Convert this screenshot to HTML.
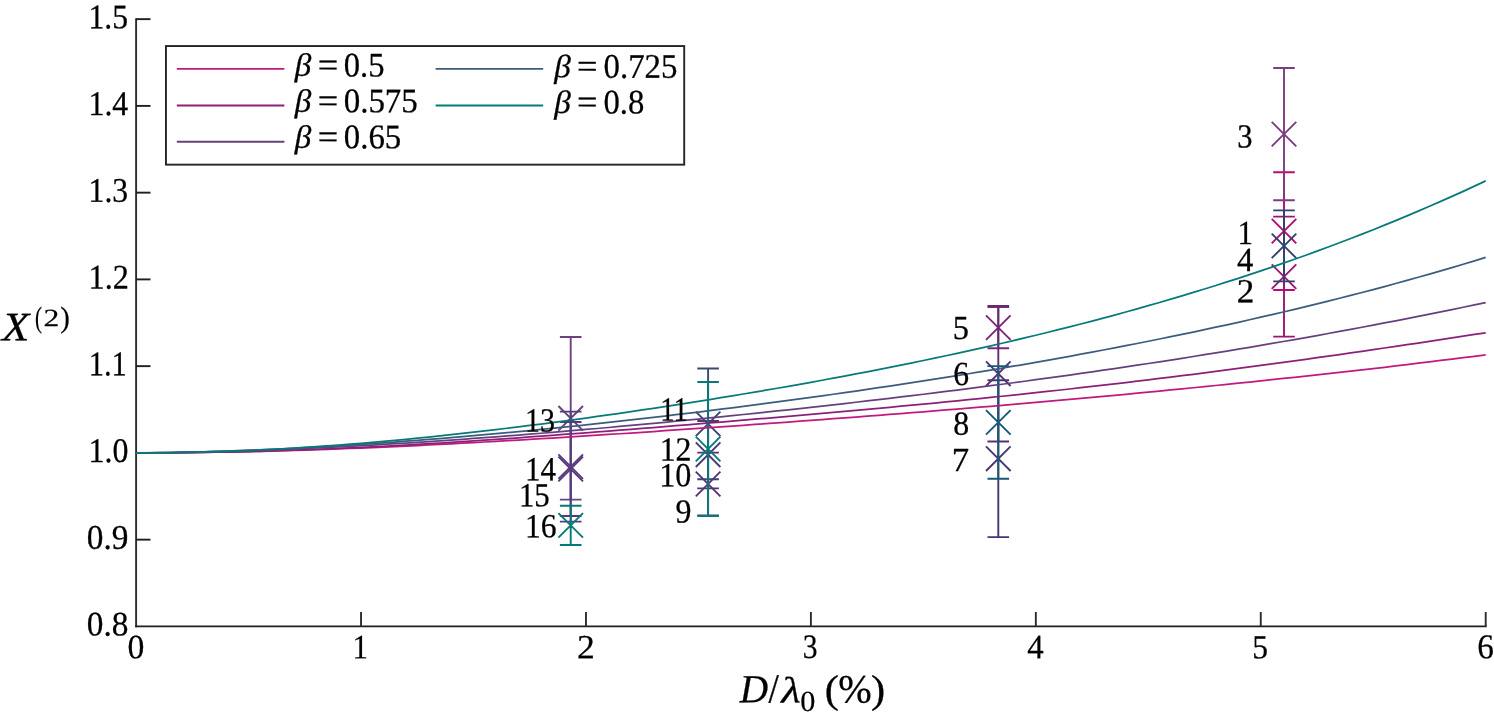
<!DOCTYPE html>
<html><head><meta charset="utf-8"><title>chart</title><style>html,body{margin:0;padding:0;background:#fff;overflow:hidden}svg{display:block;position:absolute;left:0;top:0}</style></head><body>
<svg width="1494" height="723" viewBox="0 0 1494 723">
<rect width="1494" height="723" fill="#fff"/>
<g stroke-width="1.9" fill="none" stroke-linecap="butt">
<path stroke="#2c2c2c" d="M136.1 18.20V627.35"/>
<path stroke="#1e1e1e" d="M135.15 626.4H1486.65"/>
<path stroke="#1e1e1e" d="M136.1 539.65h14.4"/>
<path stroke="#1e1e1e" d="M136.1 452.90h14.4"/>
<path stroke="#1e1e1e" d="M136.1 366.15h14.4"/>
<path stroke="#1e1e1e" d="M136.1 279.40h14.4"/>
<path stroke="#1e1e1e" d="M136.1 192.65h14.4"/>
<path stroke="#1e1e1e" d="M136.1 105.90h14.4"/>
<path stroke="#1e1e1e" d="M136.1 19.15h14.4"/>
<path stroke="#2c2c2c" d="M361.03 626.4v-14.4"/>
<path stroke="#2c2c2c" d="M585.97 626.4v-14.4"/>
<path stroke="#2c2c2c" d="M810.90 626.4v-14.4"/>
<path stroke="#2c2c2c" d="M1035.83 626.4v-14.4"/>
<path stroke="#2c2c2c" d="M1260.77 626.4v-14.4"/>
<path stroke="#2c2c2c" d="M1485.70 626.4v-14.4"/>
</g>
<g stroke="#b80a72" stroke-width="1.9" fill="none"><path d="M1284.0 172.2V290.0M1273.2 172.2h21.6M1273.2 290.0h21.6M1271.7 218.8L1296.3 243.4M1271.7 243.4L1296.3 218.8"/></g>
<g stroke="#9a1676" stroke-width="1.9" fill="none"><path d="M1284.0 216.6V336.6M1273.2 216.6h21.6M1273.2 336.6h21.6M1271.7 264.3L1296.3 288.9M1271.7 288.9L1296.3 264.3"/></g>
<g stroke="#7e3c84" stroke-width="1.9" fill="none"><path d="M1284.0 68.0V200.2M1273.2 68.0h21.6M1273.2 200.2h21.6M1271.7 121.8L1296.3 146.4M1271.7 146.4L1296.3 121.8"/></g>
<g stroke="#324270" stroke-width="1.9" fill="none"><path d="M1284.0 210.4V281.4M1273.2 210.4h21.6M1273.2 281.4h21.6M1271.7 233.6L1296.3 258.2M1271.7 258.2L1296.3 233.6"/></g>
<g stroke="#80267a" stroke-width="1.9" fill="none"><path d="M998.3 307.0V348.2M987.5 307.0h21.6M987.5 348.2h21.6M986.0 315.3L1010.5999999999999 339.9M986.0 339.9L1010.5999999999999 315.3"/></g>
<g stroke="#5e2e74" stroke-width="1.9" fill="none"><path d="M998.3 305.9V441.5M987.5 305.9h21.6M987.5 441.5h21.6M986.0 361.4L1010.5999999999999 386.0M986.0 386.0L1010.5999999999999 361.4"/></g>
<g stroke="#483672" stroke-width="1.9" fill="none"><path d="M998.3 380.3V537.1M987.5 380.3h21.6M987.5 537.1h21.6M986.0 446.4L1010.5999999999999 471.0M986.0 471.0L1010.5999999999999 446.4"/></g>
<g stroke="#165a74" stroke-width="1.9" fill="none"><path d="M998.3 366.1V478.7M987.5 366.1h21.6M987.5 478.7h21.6M986.0 410.1L1010.5999999999999 434.7M986.0 434.7L1010.5999999999999 410.1"/></g>
<g stroke="#5c3078" stroke-width="1.9" fill="none"><path d="M708.1 452.6V515.4M697.3000000000001 452.6h21.6M697.3000000000001 515.4h21.6M695.8000000000001 471.7L720.4 496.3M695.8000000000001 496.3L720.4 471.7"/></g>
<g stroke="#4a3a74" stroke-width="1.9" fill="none"><path d="M708.1 421.0V488.4M697.3000000000001 421.0h21.6M697.3000000000001 488.4h21.6M695.8000000000001 442.4L720.4 467.0M695.8000000000001 467.0L720.4 442.4"/></g>
<g stroke="#3c4676" stroke-width="1.9" fill="none"><path d="M708.1 368.5V479.3M697.3000000000001 368.5h21.6M697.3000000000001 479.3h21.6M695.8000000000001 411.6L720.4 436.2M695.8000000000001 436.2L720.4 411.6"/></g>
<g stroke="#067a76" stroke-width="1.9" fill="none"><path d="M708.1 382.0V516.0M697.3000000000001 382.0h21.6M697.3000000000001 516.0h21.6M695.8000000000001 436.7L720.4 461.3M695.8000000000001 461.3L720.4 436.7"/></g>
<g stroke="#6c4280" stroke-width="1.9" fill="none"><path d="M570.7 337.0V499.6M559.9000000000001 337.0h21.6M559.9000000000001 499.6h21.6M558.4000000000001 406.0L583.0 430.6M558.4000000000001 430.6L583.0 406.0"/></g>
<g stroke="#60347c" stroke-width="1.9" fill="none"><path d="M570.7 422.0V516.0M559.9000000000001 422.0h21.6M559.9000000000001 516.0h21.6M558.4000000000001 456.7L583.0 481.3M558.4000000000001 481.3L583.0 456.7"/></g>
<g stroke="#523e7c" stroke-width="1.9" fill="none"><path d="M570.7 411.6V521.6M559.9000000000001 411.6h21.6M559.9000000000001 521.6h21.6M558.4000000000001 454.3L583.0 478.9M558.4000000000001 478.9L583.0 454.3"/></g>
<g stroke="#067a76" stroke-width="1.9" fill="none"><path d="M570.7 505.8V545.0M559.9000000000001 505.8h21.6M559.9000000000001 545.0h21.6M558.4000000000001 513.1L583.0 537.7M558.4000000000001 537.7L583.0 513.1"/></g>
<polyline points="136.1,452.90 147.3,452.87 158.6,452.82 169.8,452.75 181.1,452.66 192.3,452.54 203.6,452.39 214.8,452.22 226.1,452.03 237.3,451.82 248.6,451.57 259.8,451.31 271.1,451.03 282.3,450.72 293.6,450.40 304.8,450.05 316.0,449.68 327.3,449.30 338.5,448.88 349.8,448.46 361.0,448.02 372.3,447.55 383.5,447.06 394.8,446.57 406.0,446.05 417.3,445.51 428.5,444.96 439.8,444.40 451.0,443.82 462.3,443.22 473.5,442.61 484.7,442.00 496.0,441.36 507.2,440.72 518.5,440.06 529.7,439.39 541.0,438.72 552.2,438.03 563.5,437.34 574.7,436.63 586.0,435.92 597.2,435.20 608.5,434.48 619.7,433.75 631.0,433.01 642.2,432.26 653.4,431.51 664.7,430.74 675.9,429.98 687.2,429.21 698.4,428.44 709.7,427.66 720.9,426.87 732.2,426.08 743.4,425.28 754.7,424.48 765.9,423.67 777.2,422.86 788.4,422.04 799.7,421.22 810.9,420.39 822.1,419.56 833.4,418.72 844.6,417.88 855.9,417.03 867.1,416.17 878.4,415.31 889.6,414.44 900.9,413.57 912.1,412.68 923.4,411.80 934.6,410.90 945.9,409.99 957.1,409.07 968.4,408.15 979.6,407.23 990.8,406.28 1002.1,405.33 1013.3,404.38 1024.6,403.41 1035.8,402.44 1047.1,401.45 1058.3,400.46 1069.6,399.45 1080.8,398.44 1092.1,397.41 1103.3,396.38 1114.6,395.33 1125.8,394.28 1137.1,393.22 1148.3,392.15 1159.5,391.06 1170.8,389.97 1182.0,388.87 1193.3,387.75 1204.5,386.63 1215.8,385.50 1227.0,384.35 1238.3,383.20 1249.5,382.03 1260.8,380.86 1272.0,379.68 1283.3,378.49 1294.5,377.29 1305.8,376.08 1317.0,374.86 1328.2,373.63 1339.5,372.38 1350.7,371.13 1362.0,369.85 1373.2,368.56 1384.5,367.26 1395.7,365.93 1407.0,364.60 1418.2,363.24 1429.5,361.86 1440.7,360.48 1452.0,359.09 1463.2,357.70 1474.5,356.32 1485.7,354.96" fill="none" stroke="#c01a7e" stroke-width="1.75" stroke-linejoin="round"/>
<polyline points="136.1,452.90 147.3,452.86 158.6,452.83 169.8,452.77 181.1,452.68 192.3,452.57 203.6,452.42 214.8,452.25 226.1,452.05 237.3,451.82 248.6,451.56 259.8,451.26 271.1,450.95 282.3,450.60 293.6,450.22 304.8,449.82 316.0,449.40 327.3,448.94 338.5,448.45 349.8,447.95 361.0,447.41 372.3,446.85 383.5,446.27 394.8,445.67 406.0,445.05 417.3,444.40 428.5,443.73 439.8,443.05 451.0,442.34 462.3,441.61 473.5,440.88 484.7,440.12 496.0,439.36 507.2,438.57 518.5,437.78 529.7,436.97 541.0,436.16 552.2,435.33 563.5,434.49 574.7,433.65 586.0,432.80 597.2,431.94 608.5,431.07 619.7,430.20 631.0,429.32 642.2,428.43 653.4,427.53 664.7,426.64 675.9,425.73 687.2,424.82 698.4,423.90 709.7,422.98 720.9,422.05 732.2,421.11 743.4,420.17 754.7,419.22 765.9,418.27 777.2,417.31 788.4,416.33 799.7,415.36 810.9,414.37 822.1,413.39 833.4,412.39 844.6,411.38 855.9,410.37 867.1,409.34 878.4,408.31 889.6,407.27 900.9,406.22 912.1,405.16 923.4,404.09 934.6,403.01 945.9,401.91 957.1,400.81 968.4,399.69 979.6,398.55 990.8,397.41 1002.1,396.25 1013.3,395.08 1024.6,393.89 1035.8,392.70 1047.1,391.47 1058.3,390.25 1069.6,389.00 1080.8,387.74 1092.1,386.46 1103.3,385.17 1114.6,383.86 1125.8,382.54 1137.1,381.20 1148.3,379.85 1159.5,378.48 1170.8,377.09 1182.0,375.68 1193.3,374.27 1204.5,372.84 1215.8,371.39 1227.0,369.92 1238.3,368.45 1249.5,366.96 1260.8,365.45 1272.0,363.93 1283.3,362.39 1294.5,360.84 1305.8,359.28 1317.0,357.71 1328.2,356.12 1339.5,354.52 1350.7,352.91 1362.0,351.29 1373.2,349.65 1384.5,348.00 1395.7,346.35 1407.0,344.68 1418.2,343.01 1429.5,341.32 1440.7,339.63 1452.0,337.92 1463.2,336.21 1474.5,334.49 1485.7,332.77" fill="none" stroke="#8c2078" stroke-width="1.75" stroke-linejoin="round"/>
<polyline points="136.1,452.90 147.3,452.80 158.6,452.69 169.8,452.55 181.1,452.38 192.3,452.17 203.6,451.94 214.8,451.67 226.1,451.36 237.3,451.03 248.6,450.68 259.8,450.30 271.1,449.88 282.3,449.45 293.6,448.98 304.8,448.48 316.0,447.97 327.3,447.43 338.5,446.87 349.8,446.28 361.0,445.67 372.3,445.04 383.5,444.39 394.8,443.71 406.0,443.02 417.3,442.31 428.5,441.57 439.8,440.82 451.0,440.05 462.3,439.26 473.5,438.46 484.7,437.63 496.0,436.78 507.2,435.93 518.5,435.06 529.7,434.16 541.0,433.25 552.2,432.33 563.5,431.39 574.7,430.44 586.0,429.48 597.2,428.50 608.5,427.50 619.7,426.49 631.0,425.47 642.2,424.43 653.4,423.38 664.7,422.31 675.9,421.24 687.2,420.15 698.4,419.04 709.7,417.93 720.9,416.80 732.2,415.66 743.4,414.50 754.7,413.33 765.9,412.15 777.2,410.97 788.4,409.76 799.7,408.54 810.9,407.30 822.1,406.06 833.4,404.81 844.6,403.53 855.9,402.25 867.1,400.95 878.4,399.64 889.6,398.31 900.9,396.97 912.1,395.62 923.4,394.25 934.6,392.87 945.9,391.47 957.1,390.06 968.4,388.63 979.6,387.19 990.8,385.73 1002.1,384.25 1013.3,382.75 1024.6,381.25 1035.8,379.73 1047.1,378.18 1058.3,376.62 1069.6,375.05 1080.8,373.45 1092.1,371.84 1103.3,370.21 1114.6,368.56 1125.8,366.90 1137.1,365.21 1148.3,363.50 1159.5,361.78 1170.8,360.03 1182.0,358.27 1193.3,356.49 1204.5,354.69 1215.8,352.87 1227.0,351.02 1238.3,349.16 1249.5,347.27 1260.8,345.37 1272.0,343.45 1283.3,341.50 1294.5,339.53 1305.8,337.54 1317.0,335.52 1328.2,333.49 1339.5,331.43 1350.7,329.35 1362.0,327.24 1373.2,325.12 1384.5,322.97 1395.7,320.80 1407.0,318.60 1418.2,316.38 1429.5,314.13 1440.7,311.87 1452.0,309.58 1463.2,307.26 1474.5,304.92 1485.7,302.55" fill="none" stroke="#66407e" stroke-width="1.75" stroke-linejoin="round"/>
<polyline points="136.1,452.90 147.3,452.80 158.6,452.67 169.8,452.51 181.1,452.30 192.3,452.07 203.6,451.78 214.8,451.47 226.1,451.12 237.3,450.73 248.6,450.31 259.8,449.86 271.1,449.37 282.3,448.85 293.6,448.30 304.8,447.72 316.0,447.11 327.3,446.47 338.5,445.80 349.8,445.10 361.0,444.37 372.3,443.63 383.5,442.85 394.8,442.04 406.0,441.21 417.3,440.36 428.5,439.48 439.8,438.57 451.0,437.65 462.3,436.70 473.5,435.72 484.7,434.73 496.0,433.71 507.2,432.68 518.5,431.62 529.7,430.54 541.0,429.44 552.2,428.32 563.5,427.18 574.7,426.02 586.0,424.84 597.2,423.64 608.5,422.42 619.7,421.18 631.0,419.93 642.2,418.66 653.4,417.37 664.7,416.06 675.9,414.73 687.2,413.39 698.4,412.02 709.7,410.64 720.9,409.24 732.2,407.82 743.4,406.38 754.7,404.94 765.9,403.46 777.2,401.97 788.4,400.47 799.7,398.94 810.9,397.40 822.1,395.84 833.4,394.25 844.6,392.65 855.9,391.03 867.1,389.39 878.4,387.73 889.6,386.06 900.9,384.36 912.1,382.64 923.4,380.91 934.6,379.15 945.9,377.37 957.1,375.56 968.4,373.74 979.6,371.90 990.8,370.03 1002.1,368.14 1013.3,366.23 1024.6,364.28 1035.8,362.32 1047.1,360.34 1058.3,358.33 1069.6,356.29 1080.8,354.22 1092.1,352.13 1103.3,350.01 1114.6,347.87 1125.8,345.69 1137.1,343.50 1148.3,341.26 1159.5,339.01 1170.8,336.72 1182.0,334.39 1193.3,332.04 1204.5,329.65 1215.8,327.23 1227.0,324.78 1238.3,322.30 1249.5,319.77 1260.8,317.21 1272.0,314.63 1283.3,311.99 1294.5,309.33 1305.8,306.62 1317.0,303.88 1328.2,301.10 1339.5,298.27 1350.7,295.41 1362.0,292.49 1373.2,289.54 1384.5,286.55 1395.7,283.50 1407.0,280.41 1418.2,277.28 1429.5,274.11 1440.7,270.88 1452.0,267.60 1463.2,264.27 1474.5,260.90 1485.7,257.46" fill="none" stroke="#3c5c7e" stroke-width="1.75" stroke-linejoin="round"/>
<polyline points="136.1,452.90 147.3,452.83 158.6,452.75 169.8,452.63 181.1,452.46 192.3,452.24 203.6,451.97 214.8,451.65 226.1,451.29 237.3,450.88 248.6,450.42 259.8,449.91 271.1,449.35 282.3,448.75 293.6,448.11 304.8,447.42 316.0,446.69 327.3,445.91 338.5,445.08 349.8,444.23 361.0,443.32 372.3,442.38 383.5,441.39 394.8,440.37 406.0,439.31 417.3,438.21 428.5,437.08 439.8,435.91 451.0,434.71 462.3,433.48 473.5,432.22 484.7,430.92 496.0,429.60 507.2,428.25 518.5,426.86 529.7,425.45 541.0,424.01 552.2,422.55 563.5,421.06 574.7,419.55 586.0,418.01 597.2,416.45 608.5,414.86 619.7,413.26 631.0,411.62 642.2,409.97 653.4,408.28 664.7,406.58 675.9,404.86 687.2,403.11 698.4,401.34 709.7,399.54 720.9,397.72 732.2,395.88 743.4,394.01 754.7,392.12 765.9,390.21 777.2,388.26 788.4,386.30 799.7,384.31 810.9,382.29 822.1,380.25 833.4,378.17 844.6,376.07 855.9,373.94 867.1,371.78 878.4,369.59 889.6,367.36 900.9,365.11 912.1,362.82 923.4,360.49 934.6,358.14 945.9,355.75 957.1,353.32 968.4,350.86 979.6,348.36 990.8,345.82 1002.1,343.23 1013.3,340.61 1024.6,337.96 1035.8,335.25 1047.1,332.50 1058.3,329.72 1069.6,326.88 1080.8,324.00 1092.1,321.07 1103.3,318.10 1114.6,315.07 1125.8,312.00 1137.1,308.88 1148.3,305.70 1159.5,302.48 1170.8,299.20 1182.0,295.86 1193.3,292.46 1204.5,289.02 1215.8,285.51 1227.0,281.94 1238.3,278.32 1249.5,274.63 1260.8,270.88 1272.0,267.07 1283.3,263.20 1294.5,259.25 1305.8,255.24 1317.0,251.15 1328.2,247.01 1339.5,242.79 1350.7,238.50 1362.0,234.13 1373.2,229.69 1384.5,225.17 1395.7,220.58 1407.0,215.91 1418.2,211.16 1429.5,206.32 1440.7,201.41 1452.0,196.41 1463.2,191.33 1474.5,186.16 1485.7,180.90" fill="none" stroke="#067a78" stroke-width="1.75" stroke-linejoin="round"/>
<g font-family="'Liberation Serif', serif" fill="#000" stroke="#000" stroke-width="0.3" stroke-linejoin="round" opacity="0.999">
<text transform="translate(86.78 635.50) rotate(0.05) scale(0.9655 1)" font-size="34.5" text-anchor="start">0.8</text>
<text transform="translate(86.78 548.75) rotate(0.05) scale(0.9654 1)" font-size="34.5" text-anchor="start">0.9</text>
<text transform="translate(88.55 462.00) rotate(0.05) scale(0.9232 1)" font-size="34.5" text-anchor="start">1.0</text>
<text transform="translate(88.67 375.25) rotate(0.05) scale(0.8837 1)" font-size="34.5" text-anchor="start">1.1</text>
<text transform="translate(88.52 288.50) rotate(0.05) scale(0.9348 1)" font-size="34.5" text-anchor="start">1.2</text>
<text transform="translate(88.56 201.75) rotate(0.05) scale(0.9188 1)" font-size="34.5" text-anchor="start">1.3</text>
<text transform="translate(88.56 115.00) rotate(0.05) scale(0.9203 1)" font-size="34.5" text-anchor="start">1.4</text>
<text transform="translate(88.57 28.25) rotate(0.05) scale(0.9162 1)" font-size="34.5" text-anchor="start">1.5</text>
<text transform="translate(127.46 658.22) rotate(0.05) scale(0.8435 0.8521)" font-size="40" text-anchor="start">0</text>
<text transform="translate(352.53 658.15) rotate(0.05) scale(0.7740 0.8521)" font-size="40" text-anchor="start">1</text>
<text transform="translate(576.88 658.15) rotate(0.05) scale(0.8918 0.8496)" font-size="40" text-anchor="start">2</text>
<text transform="translate(802.84 658.12) rotate(0.05) scale(0.7383 0.8558)" font-size="40" text-anchor="start">3</text>
<text transform="translate(1027.26 658.15) rotate(0.05) scale(0.8202 0.8546)" font-size="40" text-anchor="start">4</text>
<text transform="translate(1252.32 658.32) rotate(0.05) scale(0.7882 0.8427)" font-size="40" text-anchor="start">5</text>
<text transform="translate(1477.22 658.31) rotate(0.05) scale(0.8309 0.8707)" font-size="40" text-anchor="start">6</text>
<text transform="translate(1237.43 243.90) rotate(0.05) scale(0.9187 1)" font-size="33.7" text-anchor="start">1</text>
<text transform="translate(1236.80 302.30) rotate(0.05) scale(1.0437 1)" font-size="33.7" text-anchor="start">2</text>
<text transform="translate(1237.29 147.60) rotate(0.05) scale(0.9051 1)" font-size="33.7" text-anchor="start">3</text>
<text transform="translate(1237.01 270.90) rotate(0.05) scale(0.9703 1)" font-size="33.7" text-anchor="start">4</text>
<text transform="translate(952.67 338.90) rotate(0.05) scale(0.9576 1)" font-size="33.7" text-anchor="start">5</text>
<text transform="translate(953.19 385.00) rotate(0.05) scale(0.9376 1)" font-size="33.7" text-anchor="start">6</text>
<text transform="translate(951.66 470.90) rotate(0.05) scale(1.0324 1)" font-size="33.7" text-anchor="start">7</text>
<text transform="translate(953.34 434.80) rotate(0.05) scale(0.9452 1)" font-size="33.7" text-anchor="start">8</text>
<text transform="translate(675.52 522.50) rotate(0.05) scale(0.9456 1)" font-size="33.7" text-anchor="start">9</text>
<text transform="translate(659.22 486.30) rotate(0.05) scale(0.9540 1)" font-size="33.7" text-anchor="start">10</text>
<text transform="translate(660.23 420.40) rotate(0.05) scale(0.8498 1)" font-size="33.7" text-anchor="start">11</text>
<text transform="translate(659.65 460.60) rotate(0.05) scale(0.9453 1)" font-size="33.7" text-anchor="start">12</text>
<text transform="translate(525.01 431.40) rotate(0.05) scale(0.8905 1)" font-size="33.7" text-anchor="start">13</text>
<text transform="translate(525.02 480.30) rotate(0.05) scale(0.9202 1)" font-size="33.7" text-anchor="start">14</text>
<text transform="translate(518.94 506.20) rotate(0.05) scale(0.9143 1)" font-size="33.7" text-anchor="start">15</text>
<text transform="translate(524.98 537.30) rotate(0.05) scale(0.9349 1)" font-size="33.7" text-anchor="start">16</text>
<text transform="translate(294.78 75.85) rotate(0.05) scale(0.9611 0.933)" font-size="34.5" text-anchor="start" font-style="italic">β</text>
<text transform="translate(317.64 76.40) rotate(0.05) scale(1.0527 1)" font-size="34.5" text-anchor="start">=</text>
<text transform="translate(343.71 76.40) rotate(0.05) scale(0.9465 1)" font-size="34.5" text-anchor="start">0.5</text>
<text transform="translate(294.78 111.75) rotate(0.05) scale(0.9611 0.933)" font-size="34.5" text-anchor="start" font-style="italic">β</text>
<text transform="translate(317.64 112.30) rotate(0.05) scale(1.0527 1)" font-size="34.5" text-anchor="start">=</text>
<text transform="translate(343.69 112.30) rotate(0.05) scale(0.9551 1)" font-size="34.5" text-anchor="start">0.575</text>
<text transform="translate(294.78 147.75) rotate(0.05) scale(0.9611 0.933)" font-size="34.5" text-anchor="start" font-style="italic">β</text>
<text transform="translate(317.64 148.30) rotate(0.05) scale(1.0527 1)" font-size="34.5" text-anchor="start">=</text>
<text transform="translate(343.80 148.30) rotate(0.05) scale(0.9513 1)" font-size="34.5" text-anchor="start">0.65</text>
<text transform="translate(554.18 77.15) rotate(0.05) scale(0.9611 0.933)" font-size="34.5" text-anchor="start" font-style="italic">β</text>
<text transform="translate(577.04 77.70) rotate(0.05) scale(1.0527 1)" font-size="34.5" text-anchor="start">=</text>
<text transform="translate(603.50 77.70) rotate(0.05) scale(0.9525 1)" font-size="34.5" text-anchor="start">0.725</text>
<text transform="translate(554.18 113.05) rotate(0.05) scale(0.9611 0.933)" font-size="34.5" text-anchor="start" font-style="italic">β</text>
<text transform="translate(577.04 113.60) rotate(0.05) scale(1.0527 1)" font-size="34.5" text-anchor="start">=</text>
<text transform="translate(603.50 113.60) rotate(0.05) scale(0.9482 1)" font-size="34.5" text-anchor="start">0.8</text>
</g>
<rect x="165.95" y="46.05" width="518.25" height="118.6" fill="none" stroke="#242424" stroke-width="1.9"/>
<path d="M176.8 68.9h107.6" stroke="#c01a7e" stroke-width="1.9"/>
<path d="M176.8 105.5h107.6" stroke="#8c2078" stroke-width="1.9"/>
<path d="M176.8 141.7h107.6" stroke="#66407e" stroke-width="1.9"/>
<path d="M435.6 68.9h107.6" stroke="#3c5c7e" stroke-width="1.9"/>
<path d="M435.6 105.5h107.6" stroke="#067a78" stroke-width="1.9"/>
<g font-family="'Liberation Serif', serif" fill="#000" stroke="#000" stroke-width="0.3" stroke-linejoin="round" opacity="0.999">
<text transform="translate(2.04 340.25) rotate(0.05) scale(1.1201 1.008)" font-size="40" text-anchor="start" font-style="italic">X</text>
<text transform="translate(35.03 327.13) rotate(0.05) scale(0.5256 0.7417)" font-size="40" text-anchor="start">(</text>
<text transform="translate(43.46 326.35) rotate(0.05) scale(0.7920 0.6268)" font-size="40" text-anchor="start">2</text>
<text transform="translate(60.22 327.13) rotate(0.05) scale(0.7203 0.7417)" font-size="40" text-anchor="start">)</text>
<text transform="translate(739.79 702.37) rotate(0.05) scale(0.9815 0.9974)" font-size="40" text-anchor="start" font-style="italic">D</text>
<text transform="translate(768.55 702.45) rotate(0.05) scale(0.9268 1.0352)" font-size="40" text-anchor="start">/</text>
<text transform="translate(781.34 702.55) rotate(0.05) scale(1.1211 0.9196)" font-size="40" text-anchor="start" font-style="italic">λ</text>
<text transform="translate(800.30 711.06) rotate(0.05) scale(0.7550 0.7335)" font-size="40" text-anchor="start">0</text>
<text transform="translate(824.78 702.62) rotate(0.05) scale(1.0610 0.9898)" font-size="40" text-anchor="start">(</text>
<text transform="translate(838.18 702.62) rotate(0.05) scale(1.0037 1.0026)" font-size="40" text-anchor="start">%</text>
<text transform="translate(870.88 702.62) rotate(0.05) scale(1.0610 0.9898)" font-size="40" text-anchor="start">)</text>
</g>
</svg>
</body></html>
